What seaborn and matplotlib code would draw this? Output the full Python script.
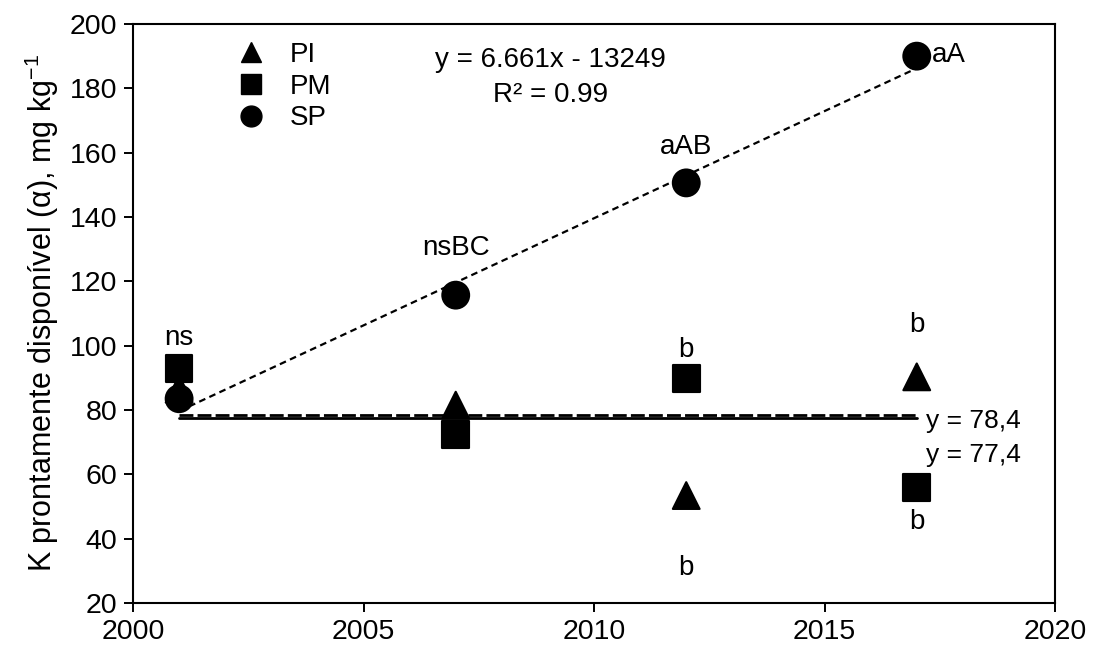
import pandas as pd
import matplotlib
matplotlib.use("Agg")
import matplotlib.pyplot as plt
import seaborn as sns
from matplotlib.lines import Line2D

# values
years = [2001, 2007, 2012, 2017]
pi_vals = [86.5, 81.5, 53.4, 90.3]
pm_vals = [92.8, 72.3, 89.7, 55.8]
sp_vals = [83.5, 115.7, 150.6, 190.0]

slope, intercept = 6.661, -13249
mean_dashed = 78.4
mean_solid = 77.4

letters = [
    (2001, 103.3, "ns"), (2007, 131.3, "nsBC"), (2012, 162.6, "aAB"),
    (2012, 99.6, "b"), (2012, 31.8, "b"), (2017, 107.2, "b"), (2017, 46.1, "b"),
]

df = pd.DataFrame({
    "year": years * 3,
    "K": pi_vals + pm_vals + sp_vals,
    "trat": ["PI"] * 4 + ["PM"] * 4 + ["SP"] * 4,
})

sns.set_style("ticks")
plt.rcParams["font.family"] = ["Liberation Sans", "DejaVu Sans"]
plt.rcParams["text.color"] = "black"
plt.rcParams["axes.labelcolor"] = "black"
plt.rcParams["mathtext.fontset"] = "custom"
plt.rcParams["mathtext.rm"] = "Liberation Sans"
plt.rcParams["mathtext.it"] = "Liberation Sans"

fig = plt.figure(figsize=(11.02, 6.59), dpi=100)
ax = fig.add_axes([0.1207, 0.085, 0.8367, 0.8786])

# trend lines
x0, x1 = years[0], years[-1]
ax.plot([x0, x1], [slope * x0 + intercept, slope * x1 + intercept],
        ls=(0, (3, 2)), color="black", lw=1.6, zorder=1)
ax.plot([x0, x1], [mean_solid] * 2, color="black", lw=2, zorder=1)
ax.plot([x0, x1], [mean_dashed] * 2, ls=(0, (5, 1.5)), color="black", lw=2, zorder=1)

sns.scatterplot(data=df, x="year", y="K", style="trat",
                markers={"PI": "^", "PM": "s", "SP": "o"},
                color="black", s=370, edgecolor="black", legend=False, ax=ax, zorder=3)

for x, y, t in letters:
    ax.text(x, y - 0.8, t, ha="center", va="center", fontsize=20)
ax.text(2017.33, 190.5, "aA", ha="left", va="center", fontsize=20)
ax.text(2017.2, 76.6, "y = 78,4", ha="left", va="center", fontsize=19)
ax.text(2017.2, 66.1, "y = 77,4", ha="left", va="center", fontsize=19)
ax.text(2009.05, 188.8, "y = 6.661x - 13249", ha="center", va="center", fontsize=20)
ax.text(2009.05, 177.9, "R² = 0.99", ha="center", va="center", fontsize=20)

handles = [
    Line2D([], [], marker="^", ls="", color="black", markersize=15),
    Line2D([], [], marker="s", ls="", color="black", markersize=14),
    Line2D([], [], marker="o", ls="", color="black", markersize=15),
]
ax.legend(handles, ["PI", "PM", "SP"], loc="upper left", bbox_to_anchor=(0.089, 1.007),
          frameon=False, fontsize=20, handletextpad=0.9, labelspacing=0.2,
          handlelength=1, borderpad=0.3)

ax.set_xlim(2000, 2020)
ax.set_ylim(20, 200)
ax.set_xticks(range(2000, 2021, 5))
ax.set_yticks(range(20, 201, 20))
ax.tick_params(direction="out", length=6.5, width=1.4, labelsize=20.5, colors="black", pad=5)
ax.set_xlabel("")
ax.set_ylabel("K prontamente disponível (α), mg kg$^{-1}$", fontsize=22, labelpad=6)
for sp in ax.spines.values():
    sp.set_visible(True)
    sp.set_linewidth(1.5)
    sp.set_color("black")

fig.savefig("out.png", dpi=100)
